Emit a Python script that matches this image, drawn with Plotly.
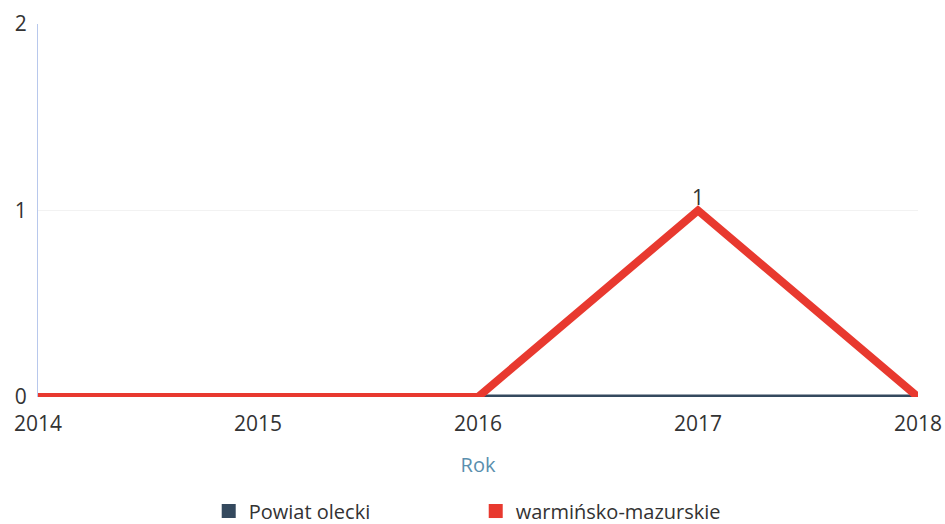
import plotly.graph_objects as go

years = [2014, 2015, 2016, 2017, 2018]
powiat_olecki = [0, 0, 0, 0, 0]
warminsko = [0, 0, 0, 1, 0]
series_names = ["Powiat olecki", "warmińsko-mazurskie"]
colors = ["#34495e", "#e8392f"]
y_ticks = [0, 1, 2]

fig = go.Figure()
fig.add_trace(go.Scatter(x=years, y=powiat_olecki, mode="lines",
                         line=dict(color=colors[0], width=5), showlegend=False,
                         name=series_names[0]))
labels = ["1" if v == 1 else "" for v in warminsko]
fig.add_trace(go.Scatter(x=years, y=warminsko, mode="lines+text", text=labels,
                         textposition="top center",
                         textfont=dict(size=21, color="#333333"),
                         line=dict(color=colors[1], width=8), showlegend=False,
                         name=series_names[1]))
for n, c in zip(series_names, colors):
    fig.add_trace(go.Scatter(x=[None], y=[None], mode="markers", name=n,
                             marker=dict(symbol="square", size=14, color=c)))

fig.update_layout(
    width=945, height=524,
    margin=dict(l=38, r=27, t=24, b=127, autoexpand=False),
    paper_bgcolor="white", plot_bgcolor="white",
    font=dict(family="Open Sans, Lato, sans-serif", size=21, color="#333333"),
    legend=dict(orientation="h", x=0.194, xanchor="left", y=-0.358, yanchor="bottom",
                font=dict(size=20, color="#333333"), itemwidth=30,
                traceorder="normal", entrywidth=222),
    xaxis=dict(range=[2014, 2018], tickvals=years, ticktext=[str(y) for y in years],
               showgrid=False, zeroline=False, showline=False, automargin=False,
               ticks="", ticklabelstandoff=12,
               title=dict(text="Rok", font=dict(size=20, color="#5a8fae"), standoff=21)),
    yaxis=dict(range=[0, 2], tickvals=y_ticks, showgrid=True, gridcolor="#f2f2f2",
               zeroline=False, showline=True, linecolor="#b8c8ec", linewidth=1,
               ticks="", ticklabelstandoff=6, automargin=False),
)
fig.write_html("out.html", config={"displayModeBar": False},
               post_script="document.body.style.margin='0';")
